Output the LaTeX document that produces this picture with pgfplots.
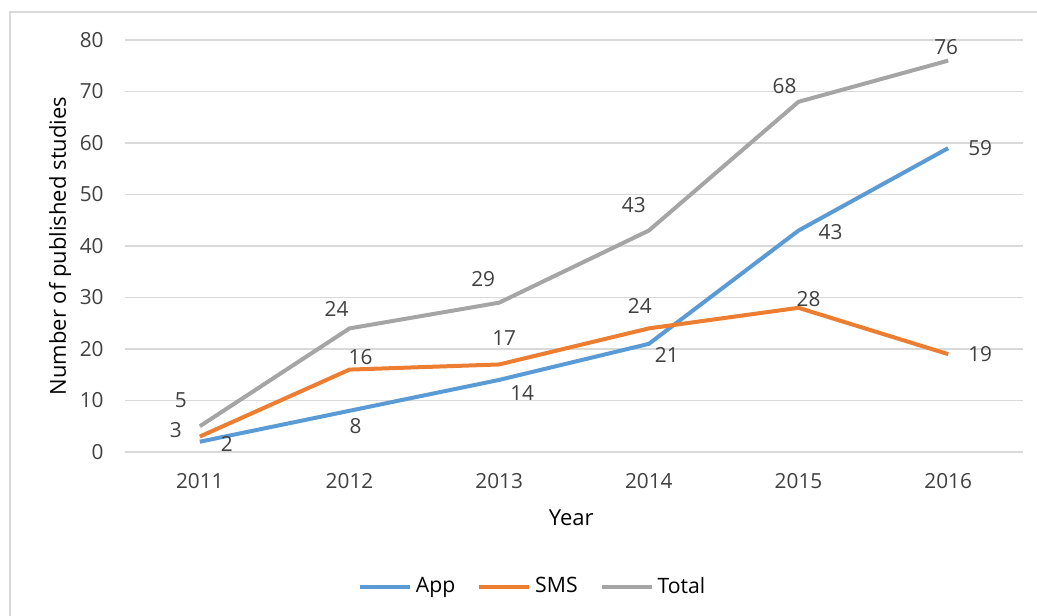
\documentclass[border=0pt]{standalone}
\usepackage{pgfplots}
\pgfplotsset{compat=1.18}
\usepackage{fontspec}
\setmainfont{Open Sans}
\definecolor{appc}{HTML}{5B9BD5}
\definecolor{smsc}{HTML}{ED7D31}
\definecolor{totc}{HTML}{A5A5A5}
\definecolor{txt}{HTML}{404040}
\definecolor{tick}{HTML}{404040}
\definecolor{grid}{HTML}{D9D9D9}
\begin{document}
\begin{tikzpicture}
\useasboundingbox (0,0) rectangle (518.5pt,-307.5pt);
\draw[color=grid, line width=1pt] (5pt,-310pt) -- (5pt,-6pt) -- (520pt,-6pt);
\begin{axis}[
  at={(62.5pt,-226pt)}, anchor=south west,
  scale only axis, width=449pt, height=206pt,
  xmin=-0.5, xmax=5.5, ymin=0, ymax=80,
  xtick={0,1,2,3,4,5},
  xticklabels={2011,2012,2013,2014,2015,2016},
  ytick={0,10,...,80},
  ymajorgrids, major grid style={color=grid, line width=0.6pt},
  axis x line*=bottom, axis y line*=left,
  x axis line style={draw=grid, line width=0.8pt, -},
  y axis line style={draw=none},
  major tick length=0pt,
  tick label style={font=\fontsize{10.4}{12}\selectfont, text=tick, inner sep=0pt},
  /pgf/number format/assume math mode=true,
  xticklabel style={anchor=center, yshift=-14.5pt},
  yticklabel style={anchor=east, xshift=-10.5pt},
  xlabel={Year}, ylabel={Number of published studies},
  label style={font=\fontsize{11}{13}\selectfont, text=black},
  xlabel style={at={(axis description cs:0.497,-0.160)}, anchor=center},
  ylabel style={at={(axis description cs:-0.0724,0.5)}, anchor=center},
  legend style={at={(0.455,-0.327)}, anchor=center, draw=none, fill=none,
    font=\fontsize{10.6}{12}\selectfont, legend columns=3,
    /tikz/every even column/.append style={column sep=9pt}},
  legend image code/.code={\draw[#1] (0pt,0pt) -- (25pt,0pt);},
  nodes near coords,
  point meta=explicit,
  visualization depends on={\thisrow{dx}\as\dx},
  visualization depends on={\thisrow{dy}\as\dy},
  every node near coord/.append style={font=\fontsize{10.4}{12}\selectfont, text=txt, anchor=center, inner sep=0pt, xshift=\dx pt, yshift=\dy pt},
]
\addplot[color=appc, line width=2pt] table[x=x, y=y, meta=y] {
x y dx dy
0 2 13.5 -1
1 8 3 -7.5
2 14 11.5 -6.5
3 21 9 -5.5
4 43 16 -1
5 59 16 0
};
\addlegendentry{App}
\addplot[color=smsc, line width=2pt] table[x=x, y=y, meta=y] {
x y dx dy
0 3 -12 3
1 16 5.5 6.5
2 17 2.5 13
3 24 -4.5 11
4 28 5 4.5
5 19 16 0
};
\addlegendentry{SMS}
\addplot[color=totc, line width=2pt] table[x=x, y=y, meta=y] {
x y dx dy
0 5 -9.5 13
1 24 -6.5 9.5
2 29 -8 12
3 43 -7.5 12.5
4 68 -7 8
5 76 -1 7
};
\addlegendentry{Total}
\end{axis}
\end{tikzpicture}
\end{document}
